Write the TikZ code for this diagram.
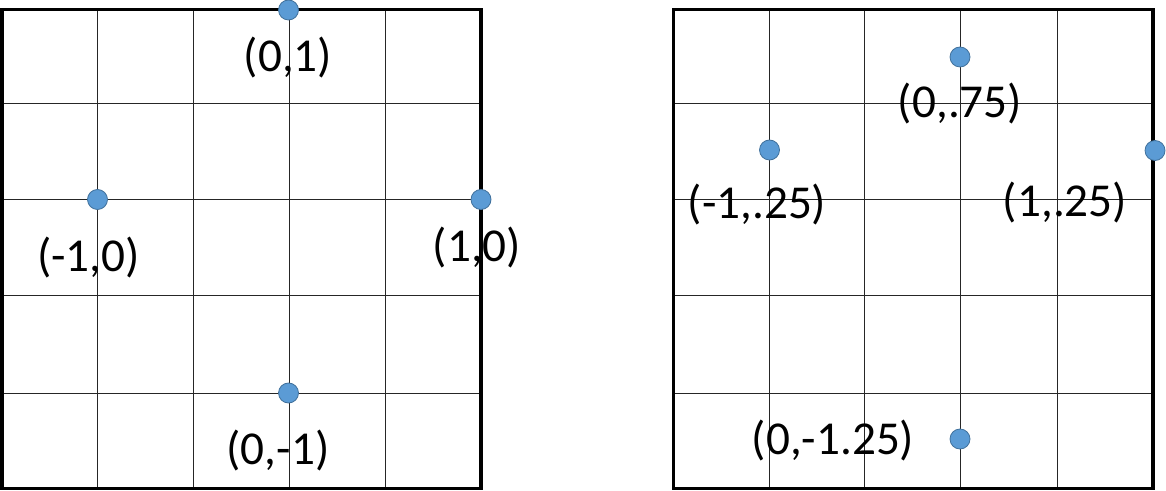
\documentclass[tikz,border=0pt]{standalone}
\usepackage{fontspec}
\setmainfont{Carlito}
\definecolor{dotfill}{HTML}{5B9BD5}
\definecolor{dotline}{HTML}{41719C}
\tikzset{
  gridline/.style={line width=0.5pt, draw=black!85},
  frame/.style={line width=1.75pt, draw=black},
  dot/.style={circle, fill=dotfill, draw=dotline, line width=0.4pt, minimum size=10pt, inner sep=0pt},
  lbl/.style={inner sep=0pt, font=\fontsize{23.6}{27}\selectfont}
}
\begin{document}
\begin{tikzpicture}[x=0.5pt,y=-0.5pt]
\useasboundingbox (0,0) rectangle (1166,491);
% left panel grid
\foreach \x in {97.5,193.5,289,385} \draw[gridline] (\x,9.5) -- (\x,488.5);
\foreach \y in {104,199.5,296,393} \draw[gridline] (2,\y) -- (481,\y);
\draw[frame] (2,9.5) rectangle (481,488.5);
% right panel grid
\foreach \x in {769.5,864.5,960,1057} \draw[gridline] (\x,9.5) -- (\x,488.5);
\foreach \y in {104,199.5,296,393} \draw[gridline] (673.5,\y) -- (1153,\y);
\draw[frame] (673.5,9.5) rectangle (1153,488.5);
% left points
\node[dot] (ltop) at (288.5,10) {};
\node[dot] (lright) at (481,199.5) {};
\node[dot] (lleft) at (97.5,199.5) {};
\node[dot] (lbottom) at (288.5,393) {};
\node[lbl] (ltoplbl) at (288,58) {(0,1)};
\node[lbl] (lleftlbl) at (88.5,258) {(-1,0)};
\node[lbl] (lrightlbl) at (477,248) {(1,0)};
\node[lbl] (lbottomlbl) at (278,451) {(0,-1)};
% right points
\node[dot] (rtop) at (960,57) {};
\node[dot] (rleft) at (769.5,150) {};
\node[dot] (rright) at (1155,150.5) {};
\node[dot] (rbottom) at (960,439) {};
\node[lbl] (rtoplbl) at (960,104) {(0,.75)};
\node[lbl] (rleftlbl) at (757,205) {(-1,.25)};
\node[lbl] (rrightlbl) at (1065,203) {(1,.25)};
\node[lbl] (rbottomlbl) at (833,441) {(0,-1.25)};
\end{tikzpicture}
\end{document}
